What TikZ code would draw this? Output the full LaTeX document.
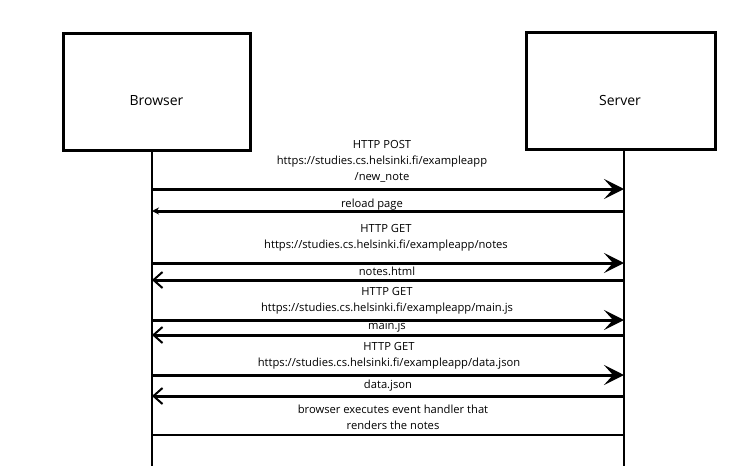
\documentclass[tikz,border=0pt]{standalone}
\usepackage{fontspec}
\setmainfont{Open Sans}
\usetikzlibrary{arrows.meta}
\begin{document}
\begin{tikzpicture}[x=1pt,y=-1pt,
  actor/.style={draw=black,line width=3pt,minimum width=187pt,minimum height=117pt,inner sep=0pt},
  actortext/.style={font=\fontsize{14}{16}\selectfont,inner sep=0pt},
  life/.style={line width=2.5pt},
  msg/.style={line width=3pt},
  lbl/.style={align=center,font=\fontsize{11.2}{16}\selectfont,inner sep=0pt},
  bigtip/.style={-{Stealth[length=20pt,width=20pt,inset=9pt]}},
  smalltip/.style={{Stealth[length=7pt,width=7pt]}-},
  retip/.style={-{Straight Barb[length=9pt,width=16pt,line width=2pt]}}
]
\useasboundingbox (0,0) rectangle (744,466);
\node[actor] (browser) at (156.5,92) {};
\node[actor,minimum width=189pt] (server) at (621,91) {};
\node[actortext] (browsertext) at (156.5,101) {Browser};
\node[actortext] (servertext) at (620,100) {Server};
% lifelines
\coordinate (bt) at (152,151);
\coordinate (bb) at (152,466);
\coordinate (st) at (624,149);
\coordinate (sb) at (624,466);
\draw[life] (bt) -- (bb);
\draw[life] (st) -- (sb);
% message points
\foreach \n/\y in {1/189,2/211,3/263,4/280,5/320,6/335,7/375,8/396,9/435}{
  \coordinate (b\n) at (152,\y);
  \coordinate (s\n) at (624,\y);
}
\draw[msg,bigtip] (b1) -- (s1);
\draw[msg,smalltip] (b2) -- (s2);
\draw[msg,smalltip,bigtip] (b3) -- (s3);
\draw[msg,retip] (s4) -- (b4);
\draw[msg,smalltip,bigtip] (b5) -- (s5);
\draw[msg,retip] (s6) -- (b6);
\draw[msg,smalltip,bigtip] (b7) -- (s7);
\draw[msg,retip] (s8) -- (b8);
\draw[line width=2.2pt] (b9) -- (s9);
% labels
\node[lbl] (l1) at (382,161) {HTTP POST\\https://studies.cs.helsinki.fi/exampleapp\\/new\_note};
\node[lbl] (l2) at (372,205) {reload page};
\node[lbl] (l3) at (386,238) {HTTP GET\\https://studies.cs.helsinki.fi/exampleapp/notes};
\node[lbl] (l4) at (387,271) {notes.html};
\node[lbl] (l5) at (387,300.5) {HTTP GET\\https://studies.cs.helsinki.fi/exampleapp/main.js};
\node[lbl] (l6) at (387,327) {main.js};
\node[lbl] (l7) at (389,356) {HTTP GET\\https://studies.cs.helsinki.fi/exampleapp/data.json};
\node[lbl] (l8) at (388,386) {data.json};
\node[lbl] (l9) at (393,417.5) {browser executes event handler that\\renders the notes};
\end{tikzpicture}
\end{document}
